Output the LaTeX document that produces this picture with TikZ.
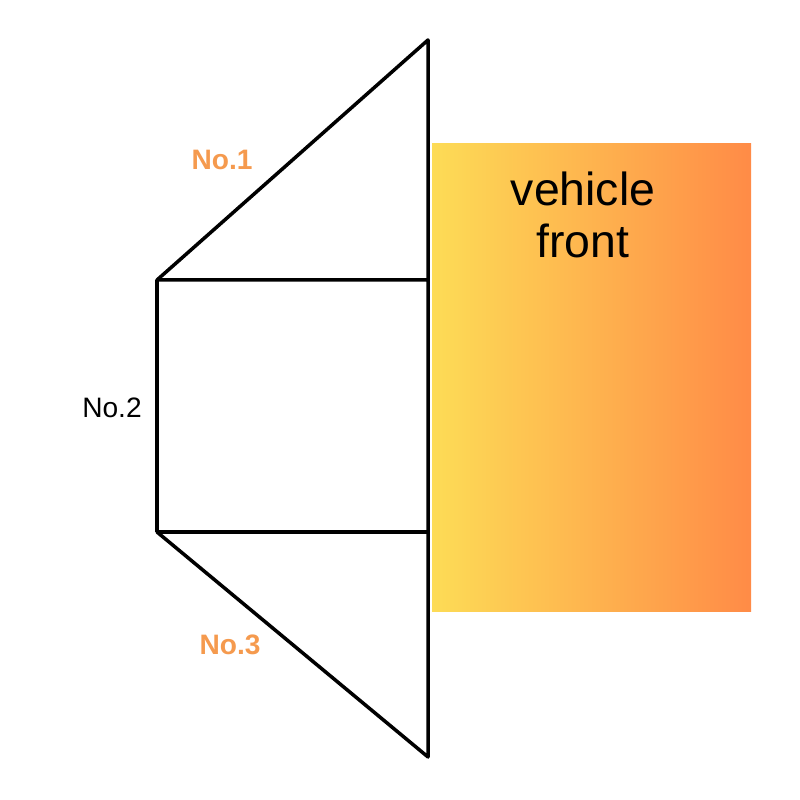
\documentclass[tikz,border=0pt]{standalone}
\usepackage{fontspec}
\setmainfont{Liberation Sans}
\definecolor{labelorange}{HTML}{F59A4E}
\definecolor{frontyellow}{HTML}{FDDC56}
\definecolor{frontorange}{HTML}{FF8B47}
\begin{document}
\begin{tikzpicture}[line join=round, line cap=round, font=\fontsize{8}{10}\selectfont]
	\useasboundingbox (0,0) rectangle (8,8);
	\path
	(4.28,7.60) coordinate (A)
	(1.57,5.20) coordinate (B)
	(4.28,5.20) coordinate (C)
	(1.57,2.68) coordinate (D)
	(4.28,2.68) coordinate (E)
	(4.28,0.43) coordinate (F);
	\shade[left color=frontyellow, right color=frontorange] (4.32,1.88) rectangle (7.51,6.56);
	\draw[line width=1pt] (A)--(B)--(C) (B)--(D)--(E) (D)--(F)--(A);
	\node[font=\fontsize{13.2}{14.8}\selectfont, align=center] (front) at (5.83,5.85) {vehicle\\front};
	\node[text=labelorange, font=\fontsize{8}{10}\selectfont\bfseries] (no1) at (2.22,6.40) {No.1};
	\node (no2) at (1.12,3.92) {No.2};
	\node[text=labelorange, font=\fontsize{8}{10}\selectfont\bfseries] (no3) at (2.30,1.55) {No.3};
\end{tikzpicture}
\end{document}
